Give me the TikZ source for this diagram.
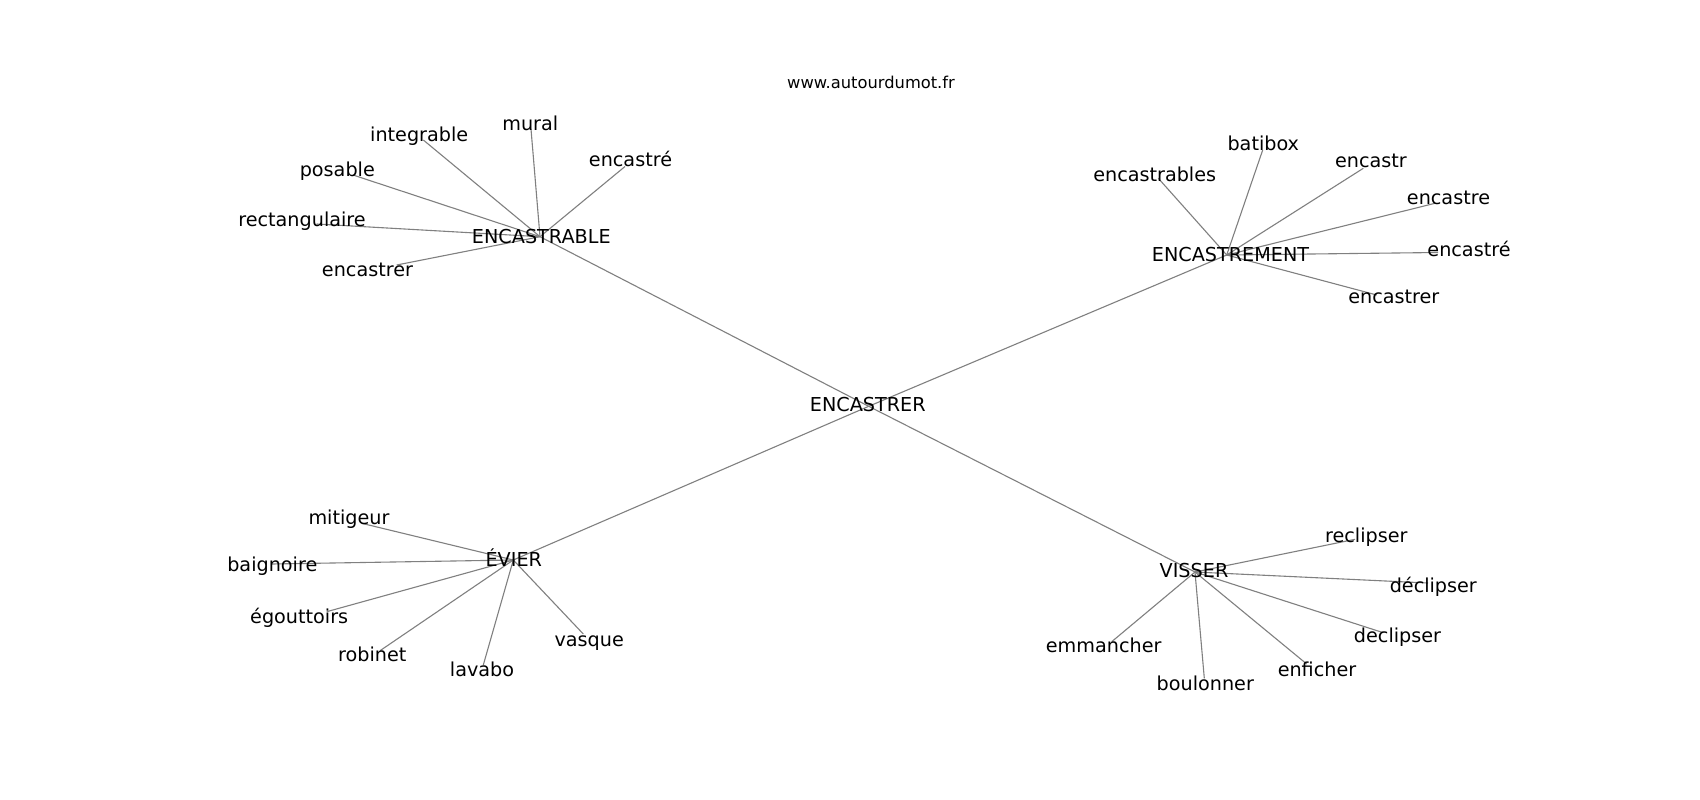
\documentclass[tikz,border=0pt]{standalone}
\usepackage{fontspec}
\setmainfont{DejaVu Sans}
\definecolor{edgegray}{HTML}{808080}
\tikzset{
  lbl/.style={anchor=base, inner sep=0pt, outer sep=0pt, text=black, font=\fontsize{19.2}{23}\selectfont},
  ttl/.style={anchor=base, inner sep=0pt, outer sep=0pt, text=black, font=\fontsize{16.3}{20}\selectfont},
  edge/.style={draw=edgegray, line width=1.1pt},
}
\begin{document}
\begin{tikzpicture}[x=1pt,y=-1pt]
\useasboundingbox[fill=white] (0,0) rectangle (1700,800);

% hub points
\coordinate (c0) at (868.7,406.3);
\coordinate (h1) at (540,236.7);
\coordinate (h2) at (1226.7,255);
\coordinate (h3) at (513.3,560);
\coordinate (h4) at (1195,572);

\draw[edge] (c0) -- (h1);
\draw[edge] (c0) -- (h2);
\draw[edge] (c0) -- (h3);
\draw[edge] (c0) -- (h4);

% ENCASTRABLE leaves
\foreach \n/\ex/\ey in {a1/423.3/140, a2/531/129, a3/625/166.5, a4/353/175, a5/316.7/224, a6/396.7/265}
  {\coordinate (\n) at (\ex,\ey); \draw[edge] (h1) -- (\n);}
% ENCASTREMENT leaves
\foreach \n/\ex/\ey in {b1/1158.3/178.3, b2/1262.7/150, b3/1363.3/168.3, b4/1435/203.3, b5/1438/252.5, b6/1376.7/295}
  {\coordinate (\n) at (\ex,\ey); \draw[edge] (h2) -- (\n);}
% EVIER leaves
\foreach \n/\ex/\ey in {e1/361.7/523.3, e2/272/564, e3/326.7/611.7, e4/380/650.7, e5/483.3/665, e6/583.3/634}
  {\coordinate (\n) at (\ex,\ey); \draw[edge] (h3) -- (\n);}
% VISSER leaves
\foreach \n/\ex/\ey in {v1/1355/539.3, v2/1428/583, v3/1383.3/632.7, v4/1111.7/641.7, v5/1204.3/678.3, v6/1306.7/664}
  {\coordinate (\n) at (\ex,\ey); \draw[edge] (h4) -- (\n);}

% labels
\node[ttl] (title) at (871,88.3) {www.autourdumot.fr};

\node[lbl] (c0l) at (867.8,411.7) {ENCASTRER};
\node[lbl] (h1l) at (541.3,243.3) {ENCASTRABLE};
\node[lbl] (h2l) at (1230.5,261.7) {ENCASTREMENT};
\node[lbl] (h3l) at (513.8,566.7) {ÉVIER};
\node[lbl] (h4l) at (1194,577) {VISSER};

\foreach \n/\t/\cx/\bl in {
  a1/integrable/419.2/141.7, a2/mural/530.3/130, a3/encastré/630.5/166,
  a4/posable/337.3/176, a5/rectangulaire/302/226, a6/encastrer/367.5/276.7,
  b1/encastrables/1154.7/181.7, b2/batibox/1263.3/150, b3/encastr/1371/167.3,
  b4/encastre/1448.5/204.3, b5/encastré/1469/256.7, b6/encastrer/1393.8/303.3,
  e1/mitigeur/349/524, e2/baignoire/272.3/571.7, e3/égouttoirs/299.2/623.3,
  e4/robinet/372.2/661.7, e5/lavabo/482/676.7, e6/vasque/589.2/646,
  v1/reclipser/1366.3/542.3, v2/déclipser/1433.3/592.7, v3/declipser/1397.5/642.7,
  v4/emmancher/1103.7/652.7, v5/boulonner/1205.3/690, v6/enficher/1317/676.7}
  {\node[lbl] (\n-l) at (\cx,\bl) {\t};}
\end{tikzpicture}
\end{document}
